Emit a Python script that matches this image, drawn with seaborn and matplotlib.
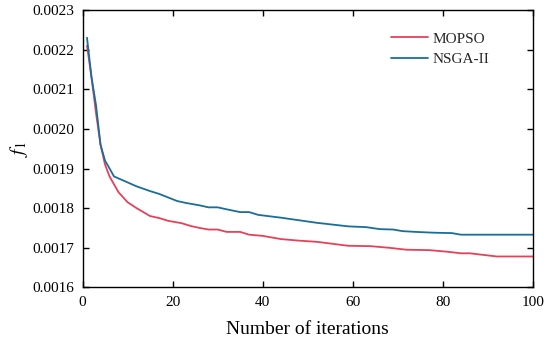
import numpy as np
import pandas as pd
import seaborn as sns
import matplotlib
matplotlib.use("Agg")
import matplotlib.pyplot as plt

# Data
mopso_x = [1, 2, 3, 4, 5, 6, 7, 8, 10, 12, 15, 17, 19, 22, 24, 26, 28, 30, 32, 35, 37, 40,
           44, 48, 52, 59, 64, 68, 72, 77, 81, 84, 86, 92, 100]
mopso_y = [0.00221, 0.00213, 0.00204, 0.00196, 0.00191, 0.00188, 0.00186, 0.00184, 0.001815,
           0.0018, 0.00178, 0.001775, 0.001768, 0.001762, 0.001755, 0.00175, 0.001746, 0.001746,
           0.00174, 0.00174, 0.001733, 0.00173, 0.001722, 0.001718, 0.001715, 0.001705, 0.001704,
           0.0017, 0.001695, 0.001694, 0.00169, 0.001686, 0.001686, 0.001678, 0.001678]
nsga_x = [1, 2, 3, 4, 5, 6, 7, 8, 10, 12, 15, 17, 19, 21, 23, 26, 28, 30, 32, 35, 37, 39,
          44, 52, 59, 63, 66, 69, 71, 74, 78, 82, 84, 100]
nsga_y = [0.00223, 0.00213, 0.00206, 0.00196, 0.00192, 0.0019, 0.00188, 0.001875, 0.001865,
          0.001855, 0.001843, 0.001836, 0.001827, 0.001818, 0.001813, 0.001807, 0.001802,
          0.001802, 0.001797, 0.00179, 0.00179, 0.001783, 0.001776, 0.001763, 0.001754,
          0.001752, 0.001747, 0.001746, 0.001742, 0.00174, 0.001738, 0.001737, 0.001733, 0.001733]
series_names = ["MOPSO", "NSGA-II"]
x_ticks = [0, 20, 40, 60, 80, 100]
y_ticks = [0.0016, 0.0017, 0.0018, 0.0019, 0.0020, 0.0021, 0.0022, 0.0023]

df = pd.concat([
    pd.DataFrame({"iter": mopso_x, "f1": mopso_y, "alg": series_names[0]}),
    pd.DataFrame({"iter": nsga_x, "f1": nsga_y, "alg": series_names[1]}),
])

sns.set_theme(style="ticks")
plt.rcParams["font.family"] = ["Liberation Serif", "DejaVu Serif"]
plt.rcParams["mathtext.fontset"] = "stix"

fig = plt.figure(figsize=(5.5, 3.45), dpi=100)
ax = fig.add_axes([0.15, 0.167, 0.819, 0.804])
palette = {"MOPSO": "#E8405A", "NSGA-II": "#1A6E99"}
sns.lineplot(data=df, x="iter", y="f1", hue="alg", palette=palette, linewidth=1.3, ax=ax,
             estimator=None, sort=False)

ax.set_xlim(0, 100)
ax.set_ylim(0.0016, 0.0023)
ax.set_xticks(x_ticks)
ax.set_yticks(y_ticks)
ax.set_yticklabels([f"{v:.4f}" for v in y_ticks])
ax.tick_params(direction="in", top=True, right=True, length=4, width=1,
               labelsize=11, colors="black")
ax.tick_params(axis="x", pad=6)
ax.tick_params(axis="y", pad=6)
for s in ax.spines.values():
    s.set_color("black")
    s.set_linewidth(1)
ax.set_xlabel("Number of iterations", fontsize=14, color="black", labelpad=9)
ax.set_ylabel(r"$f_1$", fontsize=14, color="black", labelpad=2)
leg = ax.legend(loc="upper right", bbox_to_anchor=(0.933, 0.97), frameon=False,
                fontsize=11, handlelength=2.4, labelspacing=0.45, handletextpad=0.3)
fig.savefig("out.png", dpi=100)
